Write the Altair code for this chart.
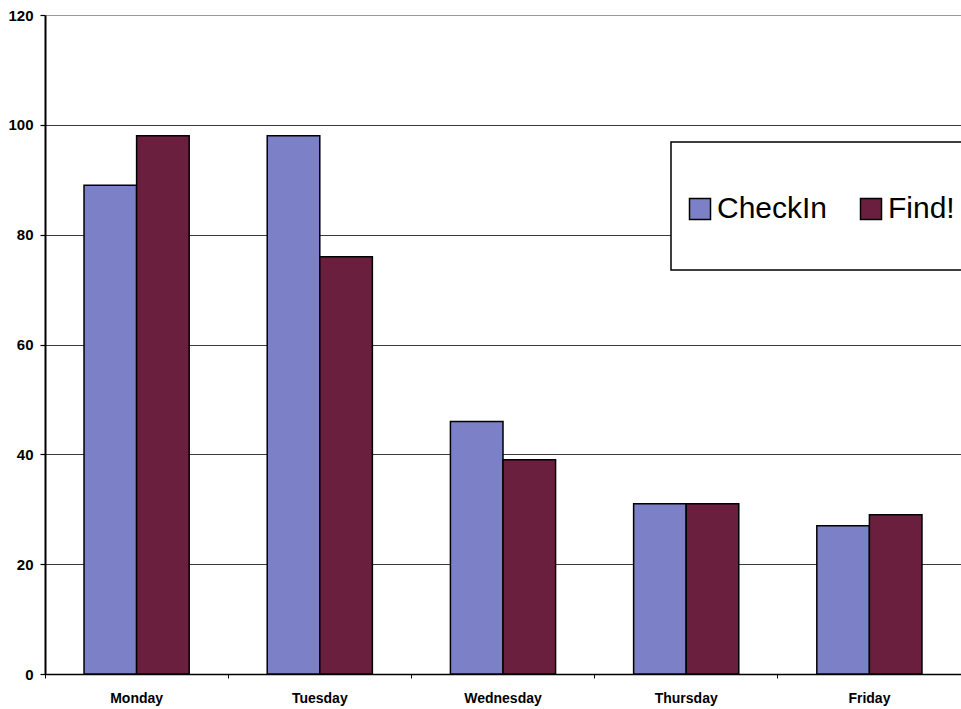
import altair as alt
import pandas as pd

days = ["Monday", "Tuesday", "Wednesday", "Thursday", "Friday"]
checkin = [89, 98, 46, 31, 27]
find = [98, 76, 39, 31, 29]
series = ["CheckIn", "Find!"]
colors = ["#7c80c6", "#6b1f3f"]
y_ticks = [0, 20, 40, 60, 80, 100, 120]

rows = []
for d, c, f in zip(days, checkin, find):
    rows.append({"day": d, "series": series[0], "value": c})
    rows.append({"day": d, "series": series[1], "value": f})
df = pd.DataFrame(rows)

FONT = "Liberation Sans"

bars = alt.Chart(df).mark_bar(stroke="black", strokeWidth=1.5, opacity=1).encode(
    x=alt.X(
        "day:N",
        sort=days,
        scale=alt.Scale(paddingInner=0.426, paddingOuter=0.213),
        axis=alt.Axis(
            title=None, labelAngle=0, labelFont=FONT, labelFontSize=14,
            labelFontWeight="bold", labelColor="black", domainColor="black",
            domainWidth=1.5, bandPosition=-0.371, tickSize=4, tickColor="black",
            tickWidth=1, labelPadding=13, grid=False,
        ),
    ),
    xOffset=alt.XOffset("series:N", sort=series),
    y=alt.Y(
        "value:Q",
        scale=alt.Scale(domain=[0, 120], nice=False),
        axis=alt.Axis(
            values=y_ticks, title=None, labelFont=FONT, labelFontSize=15,
            labelFontWeight="bold", labelColor="black", domainColor="black",
            domainWidth=2, tickSize=5, tickColor="black", tickWidth=1.2,
            labelPadding=7, grid=True,
            gridColor={"condition": {"test": "datum.value === 120", "value": "#9a9a9a"}, "value": "#3a3a3a"},
            gridWidth=1.2,
        ),
    ),
    color=alt.Color(
        "series:N",
        sort=series,
        scale=alt.Scale(domain=series, range=colors),
        legend=alt.Legend(
            title=None, orient="none", legendX=640, legendY=179,
            direction="horizontal", padding=0, symbolType="square",
            symbolSize=441, symbolStrokeColor="black", symbolStrokeWidth=1.5,
            symbolOpacity=1, labelFont=FONT, labelFontSize=30,
            labelColor="black", labelOffset=2, columnPadding=28,
        ),
    ),
)

box = alt.Chart(pd.DataFrame({"k": [0]})).mark_rect(
    fill="white", stroke="black", strokeWidth=1.5
).encode(
    x=alt.value(626), x2=alt.value(960), y=alt.value(127), y2=alt.value(255)
)

chart = alt.layer(box, bars).properties(
    width=916,
    height=659,
    padding={"left": 45, "top": 15, "right": 0, "bottom": 35},
    autosize=alt.AutoSizeParams(type="none"),
).configure_view(stroke=None).configure(background="white")

chart.save("out.html", embed_options={"renderer": "svg", "actions": False})
